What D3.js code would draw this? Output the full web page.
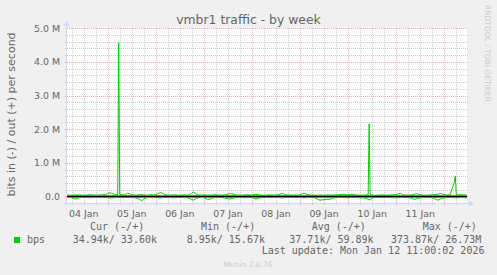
<!DOCTYPE html>
<html><head><meta charset="utf-8">
<script src="https://cdn.jsdelivr.net/npm/d3@7"></script>
<style>html,body{margin:0;padding:0;background:#f0f0f0;overflow:hidden}svg{display:block}</style>
</head><body><svg id="c" width="497" height="275"></svg>
<script>
// ---------- data ----------
const chartTitle = "vmbr1 traffic - by week";
const yAxisLabel = "bits in (-) / out (+) per second";
const dayLabels = ["04 Jan","05 Jan","06 Jan","07 Jan","08 Jan","09 Jan","10 Jan","11 Jan"];
const yTickValues = [0, 1e6, 2e6, 3e6, 4e6, 5e6];
const yTickLabels = ["0.0","1.0 M","2.0 M","3.0 M","4.0 M","5.0 M"];
const seriesStart = [2026, 0, 4, 4]; // first hourly sample: 04 Jan 04:00
// hourly averages, kbit/s (out = positive side)
const outValues = [
  45,40,38,42,50,48,44,40,38,42,46,52,48,44,40,42,45,50,55,60,
  90,110,95,70,55,50,60,50,45,55,95,80,50,45,40,45,50,55,45,40,42,48,50,45,
  60,80,110,105,70,50,45,40,42,48,45,40,38,42,50,45,40,55,100,140,70,50,45,42,
  45,42,40,38,44,48,50,46,42,40,45,55,75,85,80,60,45,42,40,38,45,50,48,44,
  42,55,70,50,45,40,38,42,45,48,44,40,42,50,65,90,70,48,45,42,40,44,46,42,
  48,75,95,70,50,45,42,40,38,40,42,40,38,42,44,40,42,45,48,50,55,60,70,55,
  50,55,70,50,45,42,40,38,42,45,50,48,42,40,38,42,45,48,44,42,40,45,48,50,
  55,75,95,60,45,42,40,45,50,60,80,70,50,45,42,40,44,48,50,55,60,70,90,75,
  52,48,50,55,250,420,45,50,55,48,50,45
];
// hourly averages, kbit/s (in = drawn negative)
const inValues = [
  30,32,35,60,80,50,35,30,28,30,32,35,34,30,28,30,32,35,33,30,
  35,40,45,35,30,28,30,32,35,30,28,30,32,35,40,60,90,130,70,40,35,30,32,35,
  30,35,40,38,32,30,28,30,35,40,38,32,30,28,30,35,40,60,90,110,60,40,35,30,
  32,60,90,80,50,35,30,28,30,35,40,55,70,75,60,40,35,30,28,32,35,38,34,30,
  30,50,80,60,40,32,30,28,30,35,32,30,28,30,35,38,34,30,28,30,32,35,33,30,
  32,35,38,34,30,28,30,35,60,90,110,100,95,90,80,85,60,40,35,30,32,34,35,38,
  35,32,30,28,30,35,38,40,45,60,90,100,50,35,30,32,35,34,30,28,30,32,35,38,
  40,35,32,30,28,30,35,40,60,90,70,50,40,35,30,28,30,35,40,60,90,110,80,50,
  40,35,32,30,35,38,36,34,32,30,35,37
];
// short half-hour bursts on the out side, kbit/s
const outPeakTimes = [[2026,0,5,5,30],[2026,0,10,10,30],[2026,0,12,5,30]];
const outPeakValues = [4570, 2160, 610];
const legendName = "bps";
const legendHeaders = ["Cur (-/+)","Min (-/+)","Avg (-/+)","Max (-/+)"];
const legendValues = ["34.94k/ 33.60k","8.95k/ 15.67k","37.71k/ 59.89k","373.87k/ 26.73M"];
const lastUpdate = "Last update: Mon Jan 12 11:00:02 2026";
const sideText = "RRDTOOL / TOBI OETIKER";
const footer = "Munin 2.0.76";

// ---------- build ----------
const svg = d3.select("#c");
const W = 497, H = 275;
const L = 67, R = 467, T = 28.3, B = 202.7;
const FONT = "DejaVu Sans, sans-serif", MONO = "DejaVu Sans Mono, monospace";
const fontCol = "#666666";
const gridCol = "#cbcbcb", mgridCol = "#eeb0b0";
const axisCol = "#CFD6F8";

svg.append("rect").attr("width", W).attr("height", H).attr("fill", "#f0f0f0");

const x = d3.scaleTime()
  .domain([new Date(2026,0,4,3,41), new Date(2026,0,12,11,20)])
  .range([L, R]);
const y = d3.scaleLinear().domain([-0.185e6, 5.0e6]).range([B, T]);

svg.append("rect").attr("x", L).attr("y", T).attr("width", R - L).attr("height", B - T).attr("fill", "#fff");

const px = v => Math.round(v) + 0.5;
const g = svg.append("g").attr("shape-rendering", "crispEdges");

// minor horizontal grid
const minorY = d3.range(0, 5.0001e6, 0.2e6).filter(v => Math.round(v) % 1e6 !== 0);
g.selectAll(".hmin").data(minorY).join("line")
  .attr("x1", L - 2).attr("x2", R + 2).attr("y1", d => px(y(d))).attr("y2", d => px(y(d)))
  .attr("stroke", gridCol).attr("stroke-dasharray", "1,1");
// minor vertical grid (6 h)
const hours6 = d3.timeHour.every(6).range(...x.domain()).filter(d => d.getHours() !== 0);
g.selectAll(".vmin").data(hours6).join("line")
  .attr("x1", d => px(x(d))).attr("x2", d => px(x(d))).attr("y1", T).attr("y2", B + 3)
  .attr("stroke", gridCol).attr("stroke-dasharray", "1,1");
// major horizontal grid
g.selectAll(".hmaj").data(yTickValues).join("line")
  .attr("x1", L - 2).attr("x2", R + 2).attr("y1", d => px(y(d))).attr("y2", d => px(y(d)))
  .attr("stroke", mgridCol).attr("stroke-dasharray", "1,1");
// major vertical grid (days)
const days = d3.timeDay.range(...x.domain());
g.selectAll(".vmaj").data(days).join("line")
  .attr("x1", d => px(x(d))).attr("x2", d => px(x(d))).attr("y1", T).attr("y2", B + 3)
  .attr("stroke", mgridCol).attr("stroke-dasharray", "1,1");

// series
function hourly(values) {
  return values.map((v, i) => {
    const t = new Date(seriesStart[0], seriesStart[1], seriesStart[2], seriesStart[3] + i);
    return {t, v: v * 1000};
  });
}
const outPts = hourly(outValues).concat(outPeakTimes.map((a, i) => ({t: new Date(...a), v: outPeakValues[i] * 1000})))
  .sort((a, b) => a.t - b.t);
const inPts = hourly(inValues).map(d => ({t: d.t, v: -d.v}));

const line = d3.line().x(d => x(d.t)).y(d => y(d.v));

// zero line
svg.append("line").attr("x1", L).attr("x2", R).attr("y1", y(0)).attr("y2", y(0))
  .attr("stroke", "#000").attr("stroke-width", 2);

svg.append("path").datum(inPts).attr("d", line).attr("fill", "none").attr("stroke", "#00cc00").attr("stroke-width", 1);
svg.append("path").datum(outPts).attr("d", line).attr("fill", "none").attr("stroke", "#00cc00").attr("stroke-width", 1);

// axes
const ax = svg.append("g").attr("shape-rendering", "crispEdges");
ax.append("line").attr("x1", L - 0.5).attr("x2", L - 0.5).attr("y1", B + 3).attr("y2", T - 4).attr("stroke", axisCol);
ax.append("line").attr("x1", L - 3).attr("x2", R + 3).attr("y1", px(B)).attr("y2", px(B)).attr("stroke", axisCol);
svg.append("path").attr("d", `M${L-3.5},${T-2.5}L${L-0.5},${T-7.5}L${L+2.5},${T-2.5}Z`).attr("fill", axisCol);
svg.append("path").attr("d", `M${R+2},${px(B)-3}L${R+7},${px(B)}L${R+2},${px(B)+3}Z`).attr("fill", axisCol);

// y tick labels
svg.selectAll(".yl").data(yTickValues).join("text")
  .attr("x", 60).attr("y", d => y(d) + 3.4).attr("text-anchor", "end")
  .attr("font-family", FONT).attr("font-size", 9.4).attr("fill", fontCol)
  .text((d, i) => yTickLabels[i]);
// x labels at noon of each day
const noons = d3.timeHour.range(...x.domain()).filter(d => d.getHours() === 12);
svg.selectAll(".xl").data(noons).join("text")
  .attr("x", d => x(d)).attr("y", 217).attr("text-anchor", "middle")
  .attr("font-family", FONT).attr("font-size", 9.4).attr("fill", fontCol)
  .text((d, i) => dayLabels[i]);

// title
svg.append("text").attr("x", 248.5).attr("y", 23.6).attr("text-anchor", "middle")
  .attr("font-family", FONT).attr("font-size", 12.4).attr("fill", fontCol).text(chartTitle);
// y axis label
svg.append("text").attr("transform", "translate(14.6,114.5) rotate(-90)").attr("text-anchor", "middle")
  .attr("font-family", FONT).attr("font-size", 11).attr("fill", fontCol).text(yAxisLabel);
// side text
svg.append("text").attr("transform", "translate(485.2,5) rotate(90)").attr("text-anchor", "start")
  .attr("font-family", FONT).attr("font-size", 7.5).attr("fill", "#cccccc").text(sideText);

// legend
const hdrX = [90, 201, 311.7, 422.7];
const valX = [72.7, 186.7, 289.3, 391];
svg.selectAll(".lh").data(legendHeaders).join("text")
  .attr("x", (d, i) => hdrX[i]).attr("y", 230).attr("font-family", MONO).attr("font-size", 10)
  .attr("fill", fontCol).attr("xml:space", "preserve").text(d => d);
svg.append("rect").attr("x", 14).attr("y", 237).attr("width", 6).attr("height", 6).attr("fill", "#00cc00");
svg.append("text").attr("x", 27).attr("y", 243).attr("font-family", MONO).attr("font-size", 10)
  .attr("fill", fontCol).text(legendName);
svg.selectAll(".lv").data(legendValues).join("text")
  .attr("x", (d, i) => valX[i]).attr("y", 243).attr("font-family", MONO).attr("font-size", 10)
  .attr("fill", fontCol).attr("xml:space", "preserve").text(d => d);
svg.append("text").attr("x", 261.7).attr("y", 254).attr("font-family", MONO).attr("font-size", 10)
  .attr("fill", fontCol).attr("xml:space", "preserve").text(lastUpdate);
svg.append("text").attr("x", 248).attr("y", 266.5).attr("text-anchor", "middle")
  .attr("font-family", FONT).attr("font-size", 7.5).attr("fill", "#cccccc").text(footer);
</script></body></html>
